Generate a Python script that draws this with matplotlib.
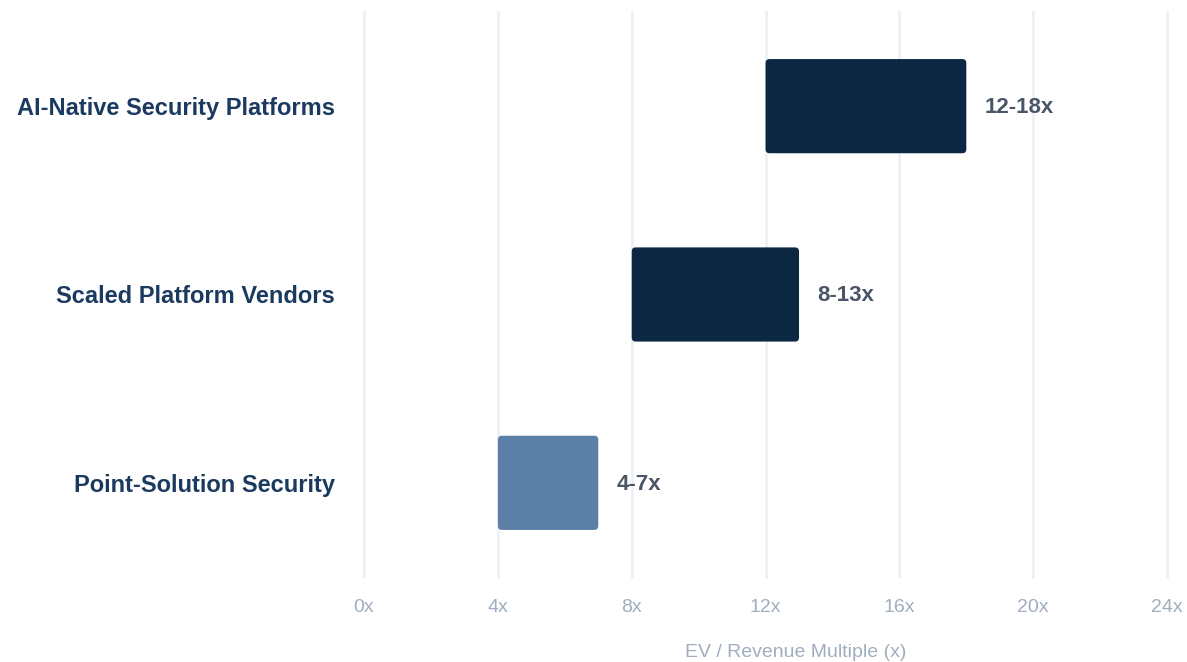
import matplotlib
matplotlib.use("Agg")
import matplotlib.pyplot as plt
from matplotlib.patches import FancyBboxPatch

plt.rcParams['font.family'] = ['Liberation Sans', 'DejaVu Sans']

# Valuation ranges (EV / Revenue multiple)
categories = ["Point-Solution Security", "Scaled Platform Vendors", "AI-Native Security Platforms"]
low_multiple = [4, 8, 12]
high_multiple = [7, 13, 18]
range_labels = ["4-7x", "8-13x", "12-18x"]
bar_colors = ["#5B7FA6", "#0B2742", "#0B2742"]
x_ticks = [0, 4, 8, 12, 16, 20, 24]
x_tick_labels = ["0x", "4x", "8x", "12x", "16x", "20x", "24x"]

fig = plt.figure(figsize=(11.87, 6.62), dpi=100)
ax = fig.add_axes([0.3067, 0.1284, 0.6765, 0.8535])

ax.set_xlim(0, 24)
ax.set_ylim(-0.5, 2.5)

bar_height = 0.5
ypos = list(range(len(categories)))

# convert a pixel corner radius into data units for x and y
fig.canvas.draw()
px_x = ax.transData.transform((1, 0))[0] - ax.transData.transform((0, 0))[0]
px_y = ax.transData.transform((0, 1))[1] - ax.transData.transform((0, 0))[1]
radius_px = 4
rx = radius_px / px_x
ry = radius_px / px_y

for y, lo, hi, col, lab in zip(ypos, low_multiple, high_multiple, bar_colors, range_labels):
    patch = FancyBboxPatch((lo, y - bar_height / 2), hi - lo, bar_height,
                           boxstyle=f"round,pad=0,rounding_size={rx}",
                           mutation_aspect=ry / rx,
                           facecolor=col, edgecolor="none", zorder=3)
    ax.add_patch(patch)
    ax.annotate(lab, xy=(hi, y), xytext=(13, -1), textcoords="offset points",
                ha="left", va="center", fontsize=16, fontweight="bold",
                color="#4A5568")

ax.set_yticks(ypos)
ax.set_yticklabels(categories, fontsize=17, fontweight="bold", color="#1B3A5F")
ax.set_xticks(x_ticks)
ax.set_xticklabels(x_tick_labels, fontsize=14, color="#A0AEC0")
ax.tick_params(axis="both", length=0)
ax.tick_params(axis="x", pad=15.5)
ax.tick_params(axis="y", pad=21)

ax.grid(axis="x", color="#EDF0F4", linewidth=2, zorder=0)
for gl in ax.get_xgridlines():
    gl.set_clip_on(False)
ax.set_axisbelow(True)
for s in ax.spines.values():
    s.set_visible(False)

ax.set_xlabel("EV / Revenue Multiple (x)", fontsize=14, color="#A0AEC0")
ax.xaxis.label.set_va("center")
ax.xaxis.set_label_coords(0.537, -0.133)

fig.savefig("out.png", dpi=100, facecolor="white")
